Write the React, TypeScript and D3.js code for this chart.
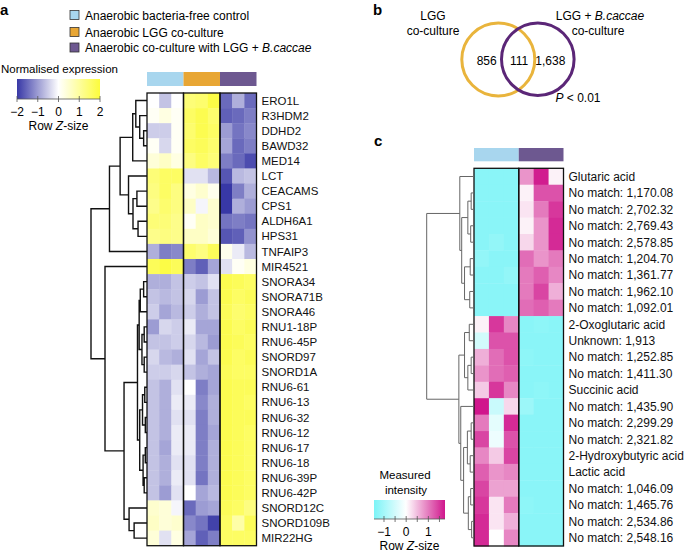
import React from 'react';
import * as d3 from 'd3';

// ---- data ----
const groupNames = ['Anaerobic bacteria-free control', 'Anaerobic LGG co-culture', 'Anaerobic co-culture with LGG + '];
const groupColors = ['#a8d6ee', '#e8a634', '#6d5890'];

const genes = ['ERO1L', 'R3HDM2', 'DDHD2', 'BAWD32', 'MED14', 'LCT', 'CEACAMS', 'CPS1', 'ALDH6A1', 'HPS31',
  'TNFAIP3', 'MIR4521', 'SNORA34', 'SNORA71B', 'SNORA46', 'RNU1-18P', 'RNU6-45P', 'SNORD97', 'SNORD1A',
  'RNU6-61', 'RNU6-13', 'RNU6-32', 'RNU6-12', 'RNU6-17', 'RNU6-18', 'RNU6-39P', 'RNU6-42P', 'SNORD12C',
  'SNORD109B', 'MIR22HG'];

const geneCtrl = [
  [0.0, -0.6, 0.0], [0.1, 0.3, 0.1], [-0.5, -0.5, 0.1], [0.1, -0.4, 0.1], [0.4, 0.6, 0.3],
  [1.4, 1.6, 1.6], [1.3, 1.6, 1.3], [1.2, 1.5, 1.3], [1.4, 1.4, 1.2], [1.2, 1.3, 1.2],
  [-0.8, -1.3, -1.2], [1.7, 1.9, 1.7], [-0.8, -0.8, -0.6], [-0.6, -0.7, -0.6], [-0.5, -0.9, -0.7],
  [-1.0, -0.4, -0.5], [-0.6, -0.6, -0.5], [-0.4, -0.7, -0.8], [-0.5, -0.5, -0.4], [-0.6, -0.8, -0.3],
  [-0.6, -0.8, -0.2], [-0.6, -0.8, -0.3], [-0.6, -0.8, -0.2], [-0.6, -0.9, -0.2], [-0.6, -0.8, -0.3],
  [-0.6, -0.8, -0.2], [-0.6, -1.0, -0.3], [0.5, 0.4, -0.1], [0.6, 0.4, 0.5], [0.4, -0.3, 0.3],
];
const geneLgg = [
  [1.4, 1.5, 1.9], [1.6, 1.8, 1.5], [1.5, 1.8, 1.6], [1.6, 1.7, 1.5], [1.3, 1.6, 1.4],
  [-0.3, -0.3, -0.7], [0.3, 0.5, 0.2], [0.6, -0.1, 0.5], [0.1, 0.6, 0.5], [0.6, 0.6, 0.4],
  [1.5, 1.3, 1.7], [-1.3, -1.6, -0.9], [-0.5, -0.6, -0.3], [-0.4, -1.0, -0.6], [-0.5, -0.8, -0.6],
  [-0.2, -0.9, -0.9], [-0.4, -0.7, -1.0], [-0.3, -0.9, -0.6], [-0.6, -0.8, -0.9], [0.0, -1.3, -0.9],
  [-0.2, -1.2, -0.8], [-0.3, -1.3, -0.8], [-0.2, -1.3, -0.9], [-0.2, -1.3, -0.8], [-0.3, -1.3, -0.8],
  [-0.3, -1.4, -0.8], [0.0, -0.9, -0.7], [-1.5, -1.0, -0.9], [-1.2, -1.4, -1.9], [-0.9, -1.6, -1.3],
];
const geneBc = [
  [-1.5, -0.8, -1.5], [-1.6, -1.5, -1.3], [-1.0, -1.4, -1.2], [-0.9, -1.5, -1.3], [-1.3, -1.5, -1.8],
  [-1.7, -0.7, -0.6], [-2.0, -1.3, -0.8], [-2.0, -0.8, -1.0], [-1.4, -1.3, -1.4], [-1.7, -1.6, -1.1],
  [0.2, -0.2, -0.7], [-0.3, 0.1, 0.3], [1.8, 1.7, 1.6], [1.8, 1.6, 1.7], [1.7, 1.5, 1.6],
  [1.8, 1.6, 1.7], [1.8, 1.7, 1.6], [1.8, 1.6, 1.7], [1.7, 1.6, 1.6], [1.8, 1.7, 1.7],
  [1.8, 1.7, 1.6], [1.8, 1.7, 1.7], [1.8, 1.7, 1.6], [1.8, 1.7, 1.6], [1.8, 1.7, 1.6],
  [1.8, 1.7, 1.6], [1.8, 1.7, 1.6], [1.7, 1.6, 1.3], [1.6, 0.9, 1.7], [1.6, 1.6, 1.6],
];

// [height, left, right]; leaves are row indices
const geneTree = [10,
  [6.7,
    [4.8,
      [2.55, [2.0, 0, [1.3, 1, [0.6, 2, 3]]], 4],
      [3.3, 5, [2.5, [1.8, 6, 7], [1.6, 8, 9]]]],
    10],
  [7.5, 11,
    [4.1,
      [1.7,
        [1.4, [1.2, [0.6, 12, 13], 14], [0.9, [0.5, 15, 16], [0.5, 17, 18]]],
        [1.3, [0.8, [0.4, 19, 20], [0.3, 21, 22]], [0.7, [0.3, 23, 24], [0.5, 25, 26]]]],
      [3.2, 27, [2.3, 28, 29]]]]];

const metabolites = ['Glutaric acid', 'No match: 1,170.08', 'No match: 2,702.32', 'No match: 2,769.43',
  'No match: 2,578.85', 'No match: 1,204.70', 'No match: 1,361.77', 'No match: 1,962.10', 'No match: 1,092.01',
  '2-Oxoglutaric acid', 'Unknown: 1,913', 'No match: 1,252.85', 'No match: 1,411.30', 'Succinic acid',
  'No match: 1,435.90', 'No match: 2,299.29', 'No match: 2,321.82', '2-Hydroxybutyric acid', 'Lactic acid',
  'No match: 1,046.09', 'No match: 1,465.76', 'No match: 2,534.86', 'No match: 2,548.16'];

const metabCtrl = [
  [-1.3, -1.3, -1.3], [-1.3, -1.3, -1.3], [-1.3, -1.3, -1.3], [-1.3, -1.3, -1.3], [-1.3, -1.2, -1.3],
  [-1.2, -1.3, -1.3], [-1.3, -1.3, -1.2], [-1.3, -1.3, -1.3], [-1.3, -1.3, -1.3],
  [0.1, 1.5, 0.9], [-0.5, 1.3, 1.3], [0.6, 1.1, 1.3], [0.8, 1.1, 1.2], [0.4, 1.5, 0.9],
  [1.8, -0.6, 0.3], [1.0, -0.3, 1.6], [1.4, -0.2, 1.3], [0.9, 0.4, 1.4], [1.2, 0.8, 0.9],
  [1.4, 0.7, 0.7], [1.5, 0.2, 1.0], [1.6, 0.2, 0.6], [1.6, 0.0, 0.9],
];
const metabBc = [
  [0.8, 1.7, 0.1], [0.1, 1.3, 1.3], [0.2, 1.0, 1.5], [0.1, 0.8, 1.6], [0.3, 0.8, 1.6],
  [1.1, 0.8, 1.0], [1.0, 1.2, 0.9], [1.0, 1.4, 0.6], [1.1, 1.2, 1.0],
  [-1.3, -1.25, -1.3], [-1.3, -1.3, -1.3], [-1.25, -1.3, -1.3], [-1.3, -1.3, -1.3], [-1.3, -1.25, -1.3],
  [-1.1, -1.3, -1.3], [-1.3, -1.3, -1.3], [-1.3, -1.3, -1.3], [-1.3, -1.3, -1.3], [-1.3, -1.3, -1.3],
  [-1.3, -1.3, -1.3], [-1.25, -1.3, -1.3], [-1.3, -1.3, -1.3], [-1.3, -1.3, -1.3],
];

const metabTree = [10,
  [3.0, 0, [2.6, [1.3, [0.6, 1, 2], [0.7, 3, 4]], [2.0, [0.8, 5, 6], [0.9, 7, 8]]]],
  [3.2,
    [2.0, [1.0, 9, 10], [1.3, [0.6, 11, 12], 13]],
    [2.8, 14, [2.2, [1.4, [0.6, 15, 16], [0.8, 17, 18]], [1.2, [0.7, 19, 20], [0.5, 21, 22]]]]]];

const vennCounts = [856, 111, 1638];
const geneTicks = [-2, -1, 0, 1, 2];
const metabTicks = [-1, 0, 1];

const FONT = '"Liberation Sans", Arial, Helvetica, sans-serif';

function dendroPath(tree: any, yOf: (i: number) => number, xOf: (h: number) => number) {
  const p = d3.path();
  const walk = (n: any): [number, number] => {
    if (typeof n === 'number') return [xOf(0), yOf(n)];
    const [h, l, r] = n;
    const a = walk(l);
    const b = walk(r);
    const x = xOf(h);
    p.moveTo(a[0], a[1]);
    p.lineTo(x, a[1]);
    p.lineTo(x, b[1]);
    p.lineTo(b[0], b[1]);
    return [x, (a[1] + b[1]) / 2];
  };
  walk(tree);
  return p.toString();
}

function Heatmap({ groups, labels, colors, x0, x1, y0, y1, barY, tree, rootX, color, labelSize, stroke, strokeW }: any) {
  const nCol = groups.length * 3;
  const xs = d3.scaleBand<number>().domain(d3.range(nCol)).range([x0, x1]);
  const ys = d3.scaleBand<number>().domain(d3.range(labels.length)).range([y0, y1]);
  const hx = d3.scaleLinear().domain([0, 10]).range([x0, rootX]);
  const bw = xs.bandwidth();
  return (
    <g>
      {groups.map((g: number[][], gi: number) => (
        <rect key={'bar' + gi} x={xs(gi * 3)!} y={barY} width={bw * 3} height={y0 - barY - 7} fill={colors[gi]} />
      ))}
      {groups.map((g: number[][], gi: number) => g.map((row, ri) => row.map((v, ci) => (
        <rect key={`c${gi}-${ri}-${ci}`} x={xs(gi * 3 + ci)!} y={ys(ri)!} width={bw + 0.4} height={ys.bandwidth() + 0.4} fill={color(v)} />
      ))))}
      {groups.map((g: number[][], gi: number) => (
        <rect key={'o' + gi} x={xs(gi * 3)!} y={y0} width={bw * 3} height={y1 - y0} fill="none" stroke="#111" strokeWidth={1.3} />
      ))}
      <path d={dendroPath(tree, (i) => ys(i)! + ys.bandwidth() / 2, hx)} fill="none" stroke={stroke} strokeWidth={strokeW} />
      {labels.map((t: string, i: number) => (
        <text key={'l' + i} x={x1 + 5} y={ys(i)! + ys.bandwidth() / 2} dy="0.36em" fontSize={labelSize} fill="#111">{t}</text>
      ))}
    </g>
  );
}

function Legend({ id, title, x0, x1, y, h, color, domain, ticks, minor }: any) {
  const sx = d3.scaleLinear().domain(domain).range([x0, x1]);
  const stops = d3.range(0, 1.0001, 0.05).map((t) => ({ t, c: color(domain[0] + t * (domain[1] - domain[0])) }));
  return (
    <g>
      <defs>
        <linearGradient id={id} x1="0" x2="1" y1="0" y2="0">
          {stops.map((s, i) => <stop key={i} offset={s.t} stopColor={s.c} />)}
        </linearGradient>
      </defs>
      {title}
      <rect x={x0} y={y} width={x1 - x0} height={h} fill={`url(#${id})`} />
      <line x1={x0} x2={x1} y1={y + h} y2={y + h} stroke="#555" strokeWidth={0.8} />
      {minor.map((t: number) => (
        <line key={'t' + t} x1={sx(t)} x2={sx(t)} y1={y + h - 3} y2={y + h + 3} stroke="#555" strokeWidth={0.8} />
      ))}
      {ticks.map((t: number) => (
        <text key={'tl' + t} x={sx(t)} y={y + h + 17} textAnchor="middle" fontSize={12}>{t < 0 ? '\u2212' + Math.abs(t) : t}</text>
      ))}
      <text x={(x0 + x1) / 2} y={y + h + 31} textAnchor="middle" fontSize={12}>Row <tspan fontStyle="italic">Z</tspan>-size</text>
    </g>
  );
}

export default function App() {
  const geneColor = d3.scaleLinear<string>().domain([-2, 0, 2]).range(['#3838a6', '#ffffff', '#fcfc3c']).clamp(true);
  const metabColor = d3.scaleLinear<string>().domain([-1.45, 0, 1.75]).range(['#7cf4f7', '#ffffff', '#d0168c']).clamp(true);

  return (
    <svg width={685} height={557} style={{ position: 'absolute', left: 0, top: 0, background: '#fff' }} fontFamily={FONT}>
      {/* panel letters */}
      <text x={0} y={15} fontSize={15} fontWeight="bold">a</text>
      <text x={373} y={15} fontSize={15} fontWeight="bold">b</text>
      <text x={374} y={146} fontSize={15} fontWeight="bold">c</text>

      {/* group legend */}
      {groupNames.map((n, i) => (
        <g key={n} transform={`translate(70, ${[15, 32, 47.5][i]})`}>
          <rect x={0} y={-4.5} width={9} height={9} fill={groupColors[i]} stroke="#333" strokeWidth={0.8} />
          <text x={15} y={4.5} fontSize={12}>{n}{i === 2 ? <tspan fontStyle="italic">B.caccae</tspan> : null}</text>
        </g>
      ))}

      {/* panel a legend */}
      <Legend id="gA" x0={17} x1={100} y={79} h={20} color={geneColor} domain={[-2, 2]} ticks={geneTicks} minor={geneTicks}
        title={<text x={1} y={73} fontSize={11.5}>Normalised expression</text>} />

      <Heatmap groups={[geneCtrl, geneLgg, geneBc]} labels={genes} colors={groupColors} x0={147} x1={256.5} y0={93} y1={545.7}
        barY={72} tree={geneTree} rootX={91} color={geneColor} labelSize={11.5} stroke="#111" strokeW={1.4} />

      {/* panel b venn */}
      <circle cx={498.3} cy={59.5} r={36.5} fill="none" stroke="#e9b43c" strokeWidth={3} />
      <circle cx={537.8} cy={59.2} r={36.3} fill="none" stroke="#5b2677" strokeWidth={3} />
      <text x={433} y={20} textAnchor="middle" fontSize={12}>LGG</text>
      <text x={433} y={35} textAnchor="middle" fontSize={12}>co-culture</text>
      <text x={600} y={20} textAnchor="middle" fontSize={12}>LGG + <tspan fontStyle="italic">B.caccae</tspan></text>
      <text x={598} y={35} textAnchor="middle" fontSize={12}>co-culture</text>
      {vennCounts.map((v, i) => (
        <text key={'v' + i} x={[486.7, 519, 550.3][i]} y={64.5} textAnchor="middle" fontSize={12}>{d3.format(',')(v)}</text>
      ))}
      <text x={578} y={101.5} textAnchor="middle" fontSize={12}><tspan fontStyle="italic">P</tspan> &lt; 0.01</text>

      {/* panel c */}
      <Heatmap groups={[metabCtrl, metabBc]} labels={metabolites} colors={[groupColors[0], groupColors[2]]} x0={474} x1={563.5}
        y0={168.3} y1={546} barY={148} tree={metabTree} rootX={426.7} color={metabColor} labelSize={12} stroke="#666" strokeW={1} />

      <Legend id="gC" x0={374} x1={445} y={500} h={19} color={metabColor} domain={[-1.45, 1.75]} ticks={metabTicks}
        minor={[-1, -0.5, 0, 0.5, 1, 1.5]}
        title={<g><text x={405} y={479} textAnchor="middle" fontSize={11.5}>Measured</text><text x={406} y={494} textAnchor="middle" fontSize={11.5}>intensity</text></g>} />
    </svg>
  );
}
